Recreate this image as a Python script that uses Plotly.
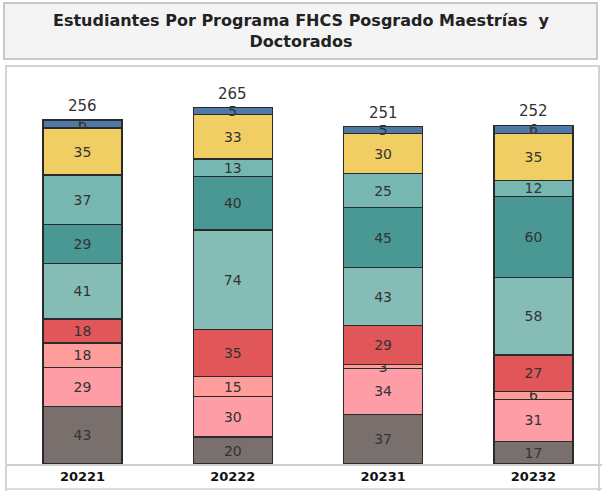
import plotly.graph_objects as go

periods = ["20221", "20222", "20231", "20232"]
series_names = ["S1", "S2", "S3", "S4", "S5", "S6", "S7", "S8", "S9"]
# bottom to top
gray_vals = [43, 20, 37, 17]
pink_vals = [29, 30, 34, 31]
salmon_vals = [18, 15, 3, 6]
red_vals = [18, 35, 29, 27]
lteal_vals = [41, 74, 43, 58]
dteal_vals = [29, 40, 45, 60]
mteal_vals = [37, 13, 25, 12]
yellow_vals = [35, 33, 30, 35]
blue_vals = [6, 5, 5, 6]
totals = [256, 265, 251, 252]

stack = [gray_vals, pink_vals, salmon_vals, red_vals, lteal_vals,
         dteal_vals, mteal_vals, yellow_vals, blue_vals]
colors = ["#79706e", "#ff9da7", "#ff9d9a", "#e15759", "#86bcb6",
          "#499894", "#76b7b2", "#f1ce63", "#4e79a7"]

W, H = 602, 491
ml, mr, mt, mb = 7, 0, 70, 27
pxunit = 150.3
plot_w = W - ml - mr
xl = -(82.5 - ml) / pxunit
xr = xl + plot_w / pxunit
plot_h = H - mt - mb
ymax = plot_h / 1.344

fig = go.Figure()
for name, vals, col in zip(series_names, stack, colors):
    fig.add_trace(go.Bar(
        x=list(range(len(periods))), y=vals, name=name,
        marker=dict(color=col, line=dict(color="#2a2a2a", width=1.3)),
        width=0.526,
        text=[str(v) for v in vals], textposition="inside",
        insidetextanchor="middle", textangle=0,
        textfont=dict(family="DejaVu Sans", size=14, color="#333333"),
        constraintext="none", cliponaxis=False,
        hoverinfo="skip",
    ))

annotations = [
    dict(x=i, y=t, text=str(t), xref="x", yref="y", showarrow=False,
         xanchor="center", yanchor="bottom", yshift=3,
         font=dict(family="DejaVu Sans", size=15, color="#333333"))
    for i, t in enumerate(totals)
]
annotations.append(
    dict(text="<b>Estudiantes Por Programa FHCS Posgrado Maestrías  y<br>Doctorados</b>",
         xref="paper", yref="paper", x=(301 - ml) / plot_w,
         y=1 + (mt - 31) / plot_h, xanchor="center", yanchor="middle",
         showarrow=False, align="center",
         font=dict(family="DejaVu Sans", size=16, color="#222222")))

fig.update_layout(
    width=W, height=H, barmode="stack", showlegend=False,
    margin=dict(l=ml, r=mr, t=mt, b=mb),
    paper_bgcolor="white", plot_bgcolor="white",
    uniformtext=dict(minsize=14, mode="show"),
    xaxis=dict(range=[xl, xr], tickmode="array",
               tickvals=list(range(len(periods))),
               ticktext=["<b>%s</b>" % p for p in periods],
               tickfont=dict(family="DejaVu Sans", size=13, color="#111111"),
               showgrid=False, zeroline=False, showline=True,
               linecolor="#cfcfcf", linewidth=1.5, ticks=""),
    yaxis=dict(range=[0, ymax], visible=False, showgrid=False),
    shapes=[
        dict(type="rect", xref="paper", yref="paper",
             x0=-3 / plot_w, x1=(W - 5 - ml) / plot_w,
             y0=1 + (mt - 59) / plot_h, y1=1 + (mt - 3) / plot_h,
             line=dict(color="#c8c8c8", width=2), fillcolor="#f4f4f4",
             layer="below"),
        dict(type="rect", xref="paper", yref="paper",
             x0=-1 / plot_w, x1=(W - 3 - ml) / plot_w,
             y0=-(mb + 2) / plot_h, y1=1 + (mt - 66) / plot_h,
             line=dict(color="#d4d4d4", width=2), fillcolor="rgba(0,0,0,0)",
             layer="below"),
        dict(type="line", xref="paper", yref="paper",
             x0=0, x1=1, y0=-25 / plot_h, y1=-25 / plot_h,
             line=dict(color="#cfcfcf", width=1.5)),
    ],
    annotations=annotations,
)

fig.write_html("out.html", config={"displayModeBar": False},
               post_script="document.body.style.margin='0';")
